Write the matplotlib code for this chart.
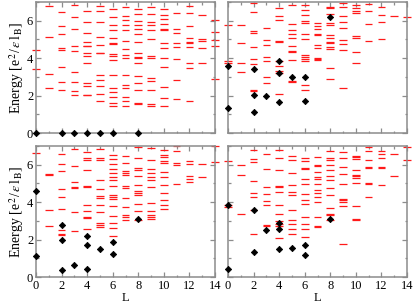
import matplotlib
matplotlib.use("Agg")
import matplotlib.pyplot as plt
from matplotlib.ticker import MultipleLocator

plt.rcParams['font.family'] = ['Liberation Serif', 'DejaVu Serif']
plt.rcParams['mathtext.fontset'] = 'stix'

# ---- data: energy levels per angular momentum L = 0..14 ----
tl_levels = [
    [4.46, 3.44],
    [6.78, 5.15, 3.16, 2.41],
    [6.48, 5.70, 5.27, 4.54, 4.46, 3.55, 2.72, 2.31],
    [6.82, 6.18, 5.57, 4.67, 4.37, 3.25, 2.72, 2.27, 2.04],
    [6.52, 5.95, 5.34, 4.86, 4.67, 4.63, 4.28, 4.14, 3.73, 2.65, 2.49, 2.04, 2.01],
    [6.78, 6.52, 5.95, 5.11, 4.72, 4.30, 4.25, 3.11, 2.82, 2.49, 2.11, 1.70],
    [6.60, 6.18, 5.77, 5.50, 5.08, 4.81, 4.74, 4.21, 4.14, 3.92, 3.11, 2.40, 2.17, 1.95, 1.60, 1.46],
    [6.73, 6.27, 6.05, 5.75, 5.52, 4.92, 4.47, 4.19, 4.01, 3.11, 2.59, 2.41, 1.95, 1.72, 1.46],
    [6.64, 6.36, 6.00, 5.77, 5.56, 5.29, 4.88, 4.28, 4.08, 3.99, 3.76, 3.05, 2.65, 2.31, 1.58, 1.53],
    [6.73, 6.34, 5.93, 5.75, 5.52, 5.01, 4.12, 4.01, 2.95, 2.80, 2.31, 1.56, 1.42],
    [6.62, 6.32, 6.11, 5.84, 5.56, 5.52, 4.81, 4.54, 3.99, 3.55, 2.45, 1.88, 1.42],
    [6.43, 5.57, 5.33, 4.83, 4.58, 3.96, 2.82, 1.83],
    [6.78, 6.41, 5.73, 5.08, 4.88, 4.83, 4.58, 3.75, 3.48, 1.72],
    [6.30, 5.01, 4.94, 4.54, 3.73],
    [6.05, 5.41, 4.99, 4.67, 2.91],
]
tl_diam_L = [0, 2, 3, 4, 5, 6, 8]
tl_diam_E = [0, 0, 0, 0, 0, 0, 0]

tr_levels = [
    [5.75, 3.83, 3.76],
    [5.75, 4.81, 3.73, 3.28],
    [6.96, 6.46, 5.45, 5.36, 4.58, 3.96, 3.67, 2.31, 2.22],
    [5.63, 4.97, 4.69, 4.07, 3.87, 2.98, 2.68],
    [6.66, 6.23, 6.02, 4.90, 4.86, 3.87, 3.57, 3.30, 3.23, 2.06],
    [6.85, 5.82, 5.52, 5.31, 5.08, 4.65, 4.39, 4.33, 3.91, 2.80, 2.72],
    [6.83, 6.55, 6.28, 6.00, 5.90, 5.31, 5.04, 4.19, 4.05, 3.95, 3.83, 2.59, 2.31],
    [5.88, 5.73, 5.56, 5.30, 5.24, 4.72, 4.56, 4.03, 3.96, 3.89],
    [6.75, 6.68, 6.36, 5.86, 5.77, 5.24, 5.10, 4.86, 4.79, 4.62, 4.47, 3.50, 2.91],
    [6.94, 6.73, 6.25, 5.95, 5.61, 4.99, 4.78, 4.44, 2.41],
    [6.83, 6.66, 6.50, 6.39, 5.18, 5.06, 4.33, 3.73],
    [6.91, 6.50, 5.84, 4.90],
    [6.75, 6.32, 5.93, 5.02],
    [6.25],
    [6.18],
]
tr_diam_L = [0, 0, 2, 2, 2, 3, 4, 4, 4, 5, 6, 6, 8]
tr_diam_E = [3.57, 1.33, 3.41, 2.04, 1.12, 1.99, 3.85, 3.23, 1.63, 3.00, 3.00, 1.70, 6.18]

bl_levels = [
    [6.64],
    [5.49, 5.45, 3.59, 2.72],
    [6.55, 6.04, 5.68, 4.69, 4.30, 3.66, 2.52, 2.29, 2.24],
    [6.83, 5.95, 5.06, 4.81, 4.77, 3.48, 2.45],
    [6.67, 6.34, 6.27, 5.70, 4.84, 4.79, 3.85, 3.53, 3.20, 3.16, 2.54],
    [6.83, 6.34, 6.27, 5.17, 4.70, 4.33, 4.23, 3.87, 3.46, 2.88, 2.79, 2.68],
    [6.53, 6.28, 6.02, 5.77, 5.54, 5.33, 5.18, 4.86, 4.36, 4.29, 4.15, 3.82, 3.25, 2.88, 2.61, 2.20],
    [6.44, 6.07, 5.68, 5.57, 5.43, 4.84, 4.76, 4.22, 3.75, 3.30, 3.23, 3.02],
    [6.96, 6.34, 5.80, 5.73, 5.38, 4.92, 4.58, 4.47, 4.39, 3.92, 3.51, 3.04],
    [6.91, 6.25, 5.77, 5.54, 5.36, 5.18, 4.79, 3.94, 3.53, 3.30, 3.21, 3.11],
    [6.80, 6.53, 6.41, 6.18, 6.07, 5.61, 5.33, 4.94, 4.51, 4.10, 3.83, 3.62],
    [6.98, 6.71, 6.07, 5.96, 4.99],
    [6.18, 6.04, 5.40, 5.24, 5.10],
    [6.05, 5.34],
    [6.98, 6.12],
]
bl_diam_L = [0, 0, 2, 2, 2, 3, 4, 4, 4, 5, 6, 6, 8]
bl_diam_E = [4.60, 1.10, 2.80, 1.99, 0.36, 0.64, 2.17, 1.69, 0.41, 1.49, 1.88, 1.24, 3.11]

br_levels = [
    [6.18, 3.83, 3.76],
    [6.00, 5.47, 3.36],
    [6.80, 6.30, 6.12, 5.15, 4.49, 4.26, 3.57, 2.29],
    [6.59, 5.77, 4.83, 4.46, 4.05, 3.87, 2.79, 2.70],
    [6.78, 6.36, 5.72, 4.86, 4.81, 4.54, 3.85, 3.34, 3.00, 2.82, 2.73, 2.08],
    [6.44, 6.25, 5.56, 4.92, 4.53, 4.36, 3.59, 3.07, 2.84, 2.56, 2.31],
    [6.37, 6.18, 5.84, 5.75, 5.24, 4.95, 4.46, 4.14, 3.89, 3.18, 2.84, 2.57, 2.13],
    [6.43, 6.00, 5.93, 5.61, 5.34, 5.25, 4.97, 4.67, 4.47, 4.28, 4.03, 3.20, 2.73, 2.66],
    [6.75, 6.34, 6.25, 6.00, 5.73, 5.41, 5.18, 4.74, 4.38, 3.67, 3.39, 3.32, 3.05],
    [6.67, 6.36, 5.89, 5.49, 4.99, 4.19, 4.12, 4.00, 3.78, 1.76],
    [6.48, 6.41, 6.30, 5.70, 5.45, 5.38, 5.29, 5.04, 3.80, 3.10, 3.03],
    [6.92, 6.71, 6.23, 5.88, 5.82, 5.04, 4.99, 4.28],
    [6.73, 6.59, 6.36, 5.89, 5.80, 4.90],
    [6.57, 5.41],
    [6.92, 6.25],
]
br_diam_L = [0, 0, 2, 2, 3, 4, 4, 4, 5, 6, 6, 8]
br_diam_E = [3.87, 0.41, 3.60, 1.35, 2.49, 2.91, 2.59, 1.47, 1.54, 1.72, 1.19, 3.12]

x_ticks = [0, 2, 4, 6, 8, 10, 12, 14]
y_ticks = [0, 2, 4, 6]
ylabel = r'Energy [e$^{\,2}$/$\,\varepsilon\,$l$_{\,\rm B}$]'

fig = plt.figure(figsize=(4.15, 3.05), dpi=100)
W, H = 415.0, 305.0
boxes = {
    'tl': (36, 2, 215, 133),
    'tr': (228, 2, 407, 133),
    'bl': (36, 146, 215, 277),
    'br': (228, 146, 407, 277),
}
panels = {
    'tl': (tl_levels, tl_diam_L, tl_diam_E),
    'tr': (tr_levels, tr_diam_L, tr_diam_E),
    'bl': (bl_levels, bl_diam_L, bl_diam_E),
    'br': (br_levels, br_diam_L, br_diam_E),
}
spine_col = '#8c8c8c'
for key, (x0, y0, x1, y1) in boxes.items():
    ax = fig.add_axes([x0 / W, 1 - y1 / H, (x1 - x0) / W, (y1 - y0) / H])
    levels, dL, dE = panels[key]
    for L, evals in enumerate(levels):
        ax.hlines(evals, L - 0.3, L + 0.3, colors='#ff1a1a', lw=0.9, clip_on=False, zorder=2)
    ax.plot(dL, dE, linestyle='none', marker='D', color='black', markersize=3.2,
            markeredgewidth=0.6, clip_on=False, zorder=3)
    ax.set_xlim(0, 14)
    ax.set_ylim(0, 7)
    ax.set_xticks(x_ticks)
    ax.set_yticks(y_ticks)
    ax.xaxis.set_minor_locator(MultipleLocator(1))
    ax.yaxis.set_minor_locator(MultipleLocator(1))
    ax.tick_params(which='both', direction='in', top=True, right=True, color=spine_col,
                   labelsize=9, pad=2)
    ax.tick_params(which='major', length=3.5, width=0.9)
    ax.tick_params(which='minor', length=1.8, width=0.9)
    for s in ax.spines.values():
        s.set_color(spine_col)
        s.set_linewidth(1.1)
    if key in ('tl', 'tr'):
        ax.set_xticklabels([])
    else:
        ax.set_xlabel('L', fontsize=9, labelpad=0)
    if key in ('tr', 'br'):
        ax.set_yticklabels([])
    else:
        ax.set_ylabel(ylabel, fontsize=10, labelpad=1)

fig.savefig('out.png', dpi=100)
